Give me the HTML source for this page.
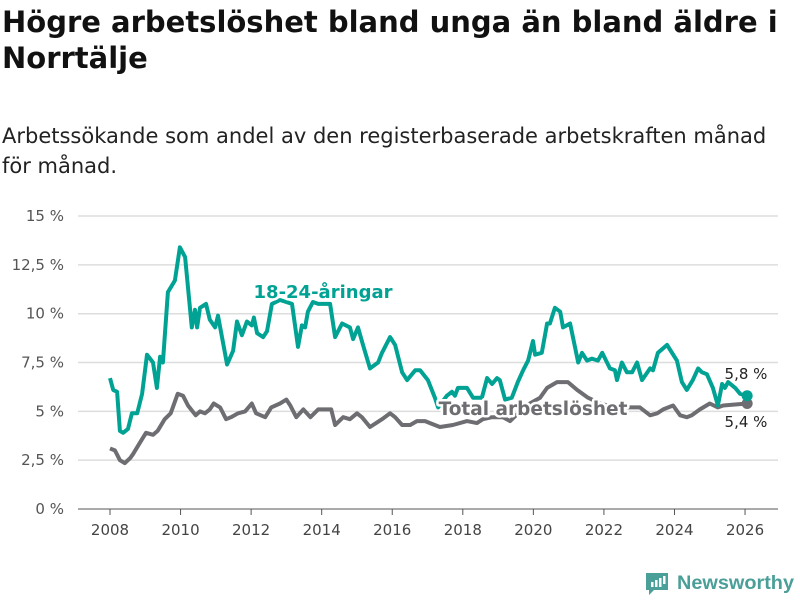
<!DOCTYPE html>
<html><head><meta charset="utf-8"><style>
body{margin:0;width:800px;height:600px;background:#fff;font-family:"DejaVu Sans","Liberation Sans",sans-serif;overflow:hidden}
h1{position:absolute;left:2px;top:4px;margin:0;font-size:29px;line-height:36px;font-weight:bold;color:#111;width:798px;white-space:nowrap}
.sub{position:absolute;left:2px;top:121px;font-size:21px;line-height:30px;color:#222;width:798px;white-space:nowrap}
svg{position:absolute;left:0;top:0}
</style></head><body>
<h1>Högre arbetslöshet bland unga än bland äldre i<br>Norrtälje</h1>
<div class="sub">Arbetssökande som andel av den registerbaserade arbetskraften månad<br>för månad.</div>
<svg width="800" height="600">
<g id="grid"></g><g id="lines"></g><g id="labels"></g>
<g>
<path d="M646 573h22v17h-14l-5 5v-5h-3z" fill="#4a9f98"/>
<rect x="651" y="582" width="2.5" height="5" fill="#fff"/><rect x="655" y="580" width="2.5" height="7" fill="#fff"/><rect x="659" y="578" width="2.5" height="9" fill="#fff"/><rect x="663" y="576" width="2.5" height="8" fill="#fff"/>
<text x="677" y="589" font-size="19" font-weight="bold" fill="#4a9f98" font-family="Liberation Sans,sans-serif" textLength="117" lengthAdjust="spacingAndGlyphs">Newsworthy</text>
</g>
</svg>
<script>
const yTicks=[0,2.5,5,7.5,10,12.5,15];
const yTickLabels=["0 %","2,5 %","5 %","7,5 %","10 %","12,5 %","15 %"];
const xTicks=[2008,2010,2012,2014,2016,2018,2020,2022,2024,2026];
const youthT=[2008.00,2008.09,2008.20,2008.28,2008.37,2008.51,2008.62,2008.77,2008.91,2009.05,2009.22,2009.33,2009.42,2009.50,2009.64,2009.84,2009.98,2010.13,2010.32,2010.41,2010.47,2010.55,2010.72,2010.83,2010.98,2011.06,2011.32,2011.49,2011.60,2011.74,2011.88,2012.02,2012.08,2012.17,2012.34,2012.45,2012.59,2012.82,2013.16,2013.33,2013.44,2013.53,2013.61,2013.75,2013.90,2014.24,2014.38,2014.58,2014.80,2014.89,2015.03,2015.17,2015.37,2015.60,2015.71,2015.94,2016.08,2016.28,2016.42,2016.65,2016.79,2017.01,2017.21,2017.30,2017.55,2017.69,2017.78,2017.86,2018.12,2018.29,2018.54,2018.69,2018.83,2018.97,2019.05,2019.20,2019.39,2019.56,2019.71,2019.85,2019.99,2020.05,2020.24,2020.39,2020.47,2020.61,2020.76,2020.84,2021.04,2021.27,2021.38,2021.52,2021.66,2021.83,2021.95,2022.17,2022.31,2022.37,2022.51,2022.65,2022.80,2022.94,2023.08,2023.31,2023.39,2023.53,2023.79,2023.93,2024.07,2024.21,2024.35,2024.52,2024.67,2024.78,2024.92,2025.09,2025.23,2025.35,2025.43,2025.52,2025.72,2025.86,2026.06];
const youthV=[6.7,6.1,6.0,4.0,3.9,4.1,4.9,4.9,5.9,7.9,7.5,6.2,7.8,7.5,11.1,11.7,13.4,12.9,9.3,10.2,9.3,10.3,10.5,9.7,9.3,9.9,7.4,8.1,9.6,8.9,9.6,9.4,9.8,9.0,8.8,9.1,10.5,10.7,10.5,8.3,9.4,9.3,10.1,10.6,10.5,10.5,8.8,9.5,9.3,8.7,9.3,8.4,7.2,7.5,8.0,8.8,8.4,7.0,6.6,7.1,7.1,6.6,5.7,5.2,5.8,6.0,5.8,6.2,6.2,5.7,5.7,6.7,6.4,6.7,6.6,5.6,5.7,6.5,7.1,7.6,8.6,7.9,8.0,9.5,9.5,10.3,10.1,9.3,9.5,7.5,8.0,7.6,7.7,7.6,8.0,7.2,7.1,6.6,7.5,7.0,7.0,7.5,6.6,7.2,7.1,8.0,8.4,8.0,7.6,6.5,6.1,6.6,7.2,7.0,6.9,6.2,5.3,6.4,6.2,6.5,6.2,5.9,5.8];
const totalT=[2008.00,2008.14,2008.28,2008.42,2008.57,2008.65,2008.85,2009.02,2009.22,2009.35,2009.55,2009.72,2009.92,2010.07,2010.21,2010.43,2010.55,2010.69,2010.83,2010.94,2011.12,2011.29,2011.43,2011.63,2011.83,2012.02,2012.14,2012.40,2012.57,2012.82,2013.00,2013.11,2013.28,2013.48,2013.68,2013.90,2014.04,2014.27,2014.38,2014.61,2014.80,2015.00,2015.14,2015.37,2015.71,2015.94,2016.08,2016.28,2016.51,2016.70,2016.93,2017.07,2017.35,2017.72,2018.12,2018.40,2018.57,2018.83,2019.14,2019.34,2019.62,2019.90,2020.19,2020.39,2020.67,2020.98,2021.24,2021.55,2021.90,2022.30,2022.80,2023.02,2023.31,2023.51,2023.68,2023.96,2024.16,2024.35,2024.49,2024.72,2025.00,2025.23,2025.38,2026.06];
const totalV=[3.1,3.0,2.5,2.35,2.6,2.8,3.4,3.9,3.8,4.0,4.6,4.9,5.9,5.8,5.3,4.8,5.0,4.9,5.1,5.4,5.2,4.6,4.7,4.9,5.0,5.4,4.9,4.7,5.2,5.4,5.6,5.3,4.7,5.1,4.7,5.1,5.1,5.1,4.3,4.7,4.6,4.9,4.7,4.2,4.6,4.9,4.7,4.3,4.3,4.5,4.5,4.4,4.2,4.3,4.5,4.4,4.6,4.7,4.7,4.5,5.0,5.4,5.7,6.2,6.5,6.5,6.1,5.7,5.4,5.2,5.2,5.2,4.8,4.9,5.1,5.3,4.8,4.7,4.8,5.1,5.4,5.2,5.3,5.4];
const NS="http://www.w3.org/2000/svg";
const X=t=>110+(t-2008)*35.28, Y=v=>509-v*19.53;
function mk(tag,attrs,parent,txt){const e=document.createElementNS(NS,tag);for(const k in attrs)e.setAttribute(k,attrs[k]);if(txt!=null)e.textContent=txt;document.getElementById(parent).appendChild(e);return e;}
yTicks.forEach((v,i)=>{
 const l=mk('line',{x1:78,x2:778,y1:Y(v),y2:Y(v),stroke:v===0?'#555':'#ddd','stroke-width':v===0?1:1.5},'grid');
 
 
 const t=mk('text',{x:64,y:Y(v)+5,'text-anchor':'end','font-size':15,fill:'#555'},'grid',yTickLabels[i]);
 
 
});
xTicks.forEach(y=>{
 const l=mk('line',{x1:X(y),x2:X(y),y1:509,y2:515,stroke:'#555'},'grid');
 
 
 const t=mk('text',{x:X(y),y:535,'text-anchor':'middle','font-size':15,fill:'#444'},'grid',String(y));
 
 
});
function path(T,V){return T.map((t,i)=>(i?'L':'M')+X(t).toFixed(1)+' '+Y(V[i]).toFixed(1)).join('');}
const pt=mk('path',{d:path(totalT,totalV),fill:'none',stroke:'#6e6d72','stroke-width':4,'stroke-linejoin':'round'},'lines');


const py=mk('path',{d:path(youthT,youthV),fill:'none',stroke:'#00a294','stroke-width':4,'stroke-linejoin':'round'},'lines');


const ly=youthT.length-1, lt=totalT.length-1;
const dt=mk('circle',{cx:X(totalT[lt]),cy:Y(totalV[lt]),r:5.5,fill:'#6e6d72'},'lines');


const dy=mk('circle',{cx:X(youthT[ly]),cy:Y(youthV[ly]),r:5.5,fill:'#00a294'},'lines');


const a=mk('text',{x:323,y:298,'text-anchor':'middle','font-size':18,'font-weight':'bold',fill:'#00a294',stroke:'#fff','stroke-width':5,'paint-order':'stroke','stroke-linejoin':'round'},'labels','18-24-åringar');


const b=mk('text',{x:533,y:415,'text-anchor':'middle','font-size':18.5,'font-weight':'bold',fill:'#6e6d72',stroke:'#fff','stroke-width':5,'paint-order':'stroke','stroke-linejoin':'round'},'labels','Total arbetslöshet');


const c=mk('text',{x:746,y:379,'text-anchor':'middle','font-size':15,fill:'#222'},'labels',youthV[ly].toFixed(1).replace('.',',')+' %');


const d=mk('text',{x:746,y:427,'text-anchor':'middle','font-size':15,fill:'#222'},'labels',totalV[lt].toFixed(1).replace('.',',')+' %');


</script>
</body></html>
